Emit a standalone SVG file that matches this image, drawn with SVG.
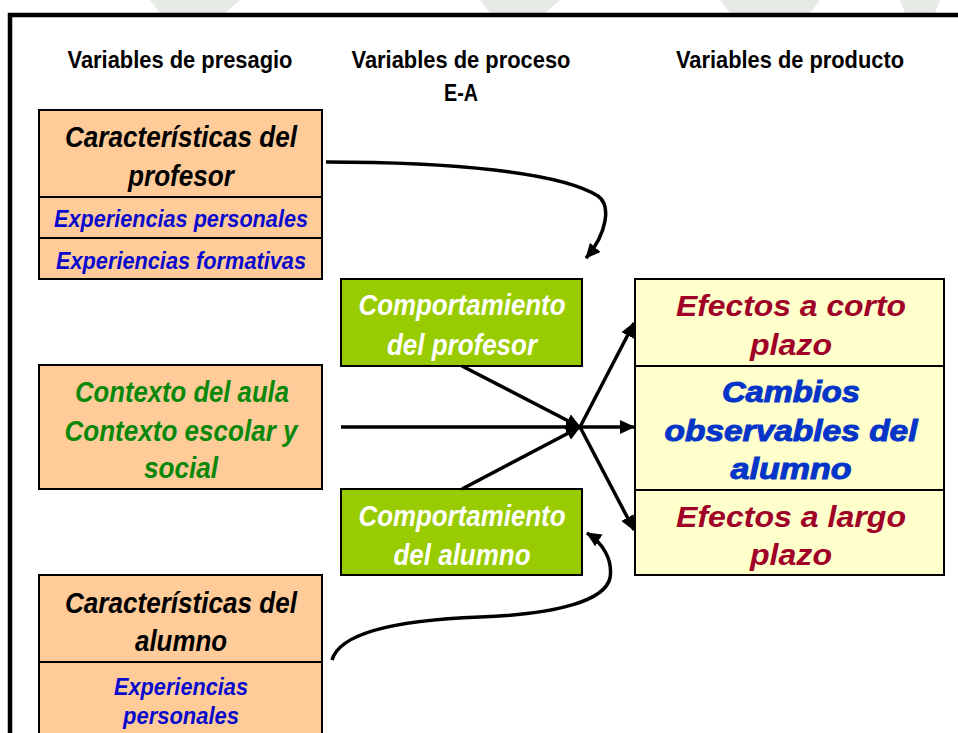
<svg xmlns="http://www.w3.org/2000/svg" width="958" height="733" viewBox="0 0 958 733">
<defs>
<style>
.hdr{font-family:"Liberation Sans",Arial,sans-serif;font-weight:bold;font-size:24px;fill:#000;text-anchor:middle}
.t{font-family:"Liberation Sans",Arial,sans-serif;font-weight:bold;font-style:italic;text-anchor:middle}
.big{font-size:29px}
.sm{font-size:23px}
.blk{fill:#000}
.blu{fill:#0A0ACC}
.grn{fill:#0A880A}
.wht{fill:#fff}
.red{fill:#A00028}
.cb{fill:#0535C8;stroke:#0535C8;stroke-width:1px}
.peach{fill:#FFCC99;stroke:#000;stroke-width:2}
.lime{fill:#99CC00;stroke:#000;stroke-width:2}
.yel{fill:#FFFFCC;stroke:#000;stroke-width:2}
.con{fill:none;stroke:#000;stroke-width:3.5}
</style>
<marker id="ah" markerUnits="userSpaceOnUse" markerWidth="16" markerHeight="14" refX="14" refY="7" orient="auto">
<path d="M0,0 L15,7 L0,14 Z" fill="#000"/>
</marker>
</defs>
<rect x="0" y="0" width="958" height="733" fill="#fff"/>
<g id="watermark" fill="#E6EAE4">
<path d="M150,0 L240,0 L225,13 L160,13 Z"/>
<path d="M480,0 L560,0 L545,13 L490,13 Z"/>
<path d="M720,0 L820,0 L810,13 L730,13 Z"/>
<path d="M900,0 L940,0 L935,13 L905,13 Z"/>
</g>
<rect id="frame" x="10" y="15" width="960" height="740" fill="none" stroke="#000" stroke-width="4.5"/>
<g id="headers">
<text class="hdr" x="180" y="68" textLength="225" lengthAdjust="spacingAndGlyphs">Variables de presagio</text>
<text class="hdr" x="461" y="68" textLength="219" lengthAdjust="spacingAndGlyphs">Variables de proceso</text>
<text class="hdr" x="461" y="101" textLength="34" lengthAdjust="spacingAndGlyphs">E-A</text>
<text class="hdr" x="790" y="68" textLength="228" lengthAdjust="spacingAndGlyphs">Variables de producto</text>
</g>
<g id="caracteristicas-profesor">
<rect class="peach" x="39" y="110" width="283" height="87"/>
<rect class="peach" x="39" y="197" width="283" height="41"/>
<rect class="peach" x="39" y="238" width="283" height="41"/>
<text class="t big blk" x="181" y="147" textLength="232" lengthAdjust="spacingAndGlyphs">Características del</text>
<text class="t big blk" x="181" y="186" textLength="106" lengthAdjust="spacingAndGlyphs">profesor</text>
<text class="t sm blu" x="181" y="227" textLength="254" lengthAdjust="spacingAndGlyphs">Experiencias personales</text>
<text class="t sm blu" x="181" y="269" textLength="250" lengthAdjust="spacingAndGlyphs">Experiencias formativas</text>
</g>
<g id="contexto">
<rect class="peach" x="39" y="365" width="283" height="124"/>
<text class="t big grn" x="182" y="402" textLength="214" lengthAdjust="spacingAndGlyphs">Contexto del aula</text>
<text class="t big grn" x="181" y="441" textLength="233" lengthAdjust="spacingAndGlyphs">Contexto escolar y</text>
<text class="t big grn" x="181" y="478" textLength="74" lengthAdjust="spacingAndGlyphs">social</text>
</g>
<g id="caracteristicas-alumno">
<rect class="peach" x="39" y="575" width="283" height="87"/>
<rect class="peach" x="39" y="662" width="283" height="90"/>
<text class="t big blk" x="181" y="613" textLength="232" lengthAdjust="spacingAndGlyphs">Características del</text>
<text class="t big blk" x="181" y="651" textLength="92" lengthAdjust="spacingAndGlyphs">alumno</text>
<text class="t sm blu" x="181" y="695" textLength="134" lengthAdjust="spacingAndGlyphs">Experiencias</text>
<text class="t sm blu" x="181" y="724" textLength="116" lengthAdjust="spacingAndGlyphs">personales</text>
</g>
<g id="comportamiento-profesor">
<rect class="lime" x="341" y="279" width="241" height="87"/>
<text class="t big wht" x="462" y="315" textLength="207" lengthAdjust="spacingAndGlyphs">Comportamiento</text>
<text class="t big wht" x="462" y="355" textLength="150" lengthAdjust="spacingAndGlyphs">del profesor</text>
</g>
<g id="comportamiento-alumno">
<rect class="lime" x="341" y="489" width="241" height="86"/>
<text class="t big wht" x="462" y="526" textLength="207" lengthAdjust="spacingAndGlyphs">Comportamiento</text>
<text class="t big wht" x="462" y="565" textLength="137" lengthAdjust="spacingAndGlyphs">del alumno</text>
</g>
<g id="efectos">
<rect class="yel" x="635" y="279" width="309" height="87"/>
<rect class="yel" x="635" y="366" width="309" height="124"/>
<rect class="yel" x="635" y="490" width="309" height="85"/>
<text class="t big red" x="791" y="316" textLength="230" lengthAdjust="spacingAndGlyphs">Efectos a corto</text>
<text class="t big red" x="791" y="355" textLength="82" lengthAdjust="spacingAndGlyphs">plazo</text>
<text class="t big cb" x="791" y="402" textLength="138" lengthAdjust="spacingAndGlyphs">Cambios</text>
<text class="t big cb" x="791" y="441" textLength="253" lengthAdjust="spacingAndGlyphs">observables del</text>
<text class="t big cb" x="791" y="479" textLength="121" lengthAdjust="spacingAndGlyphs">alumno</text>
<text class="t big red" x="791" y="527" textLength="230" lengthAdjust="spacingAndGlyphs">Efectos a largo</text>
<text class="t big red" x="791" y="565" textLength="82" lengthAdjust="spacingAndGlyphs">plazo</text>
</g>
<g id="connectors">
<path class="con" d="M326,162 C450,162 560,172 598,196 C612,206 606,235 586,258" marker-end="url(#ah)"/>
<path class="con" d="M332,660 C340,632 400,620 480,617 C560,614 605,600 610,578 C613,560 603,543 587,533" marker-end="url(#ah)"/>
<line class="con" x1="462" y1="366" x2="580" y2="427" marker-end="url(#ah)"/>
<line class="con" x1="341" y1="427" x2="580" y2="427" marker-end="url(#ah)"/>
<line class="con" x1="462" y1="489" x2="580" y2="427" marker-end="url(#ah)"/>
<line class="con" x1="580" y1="427" x2="634" y2="427" marker-end="url(#ah)"/>
<line class="con" x1="580" y1="427" x2="634" y2="323" marker-end="url(#ah)"/>
<line class="con" x1="580" y1="427" x2="634" y2="530" marker-end="url(#ah)"/>
</g>
</svg>
